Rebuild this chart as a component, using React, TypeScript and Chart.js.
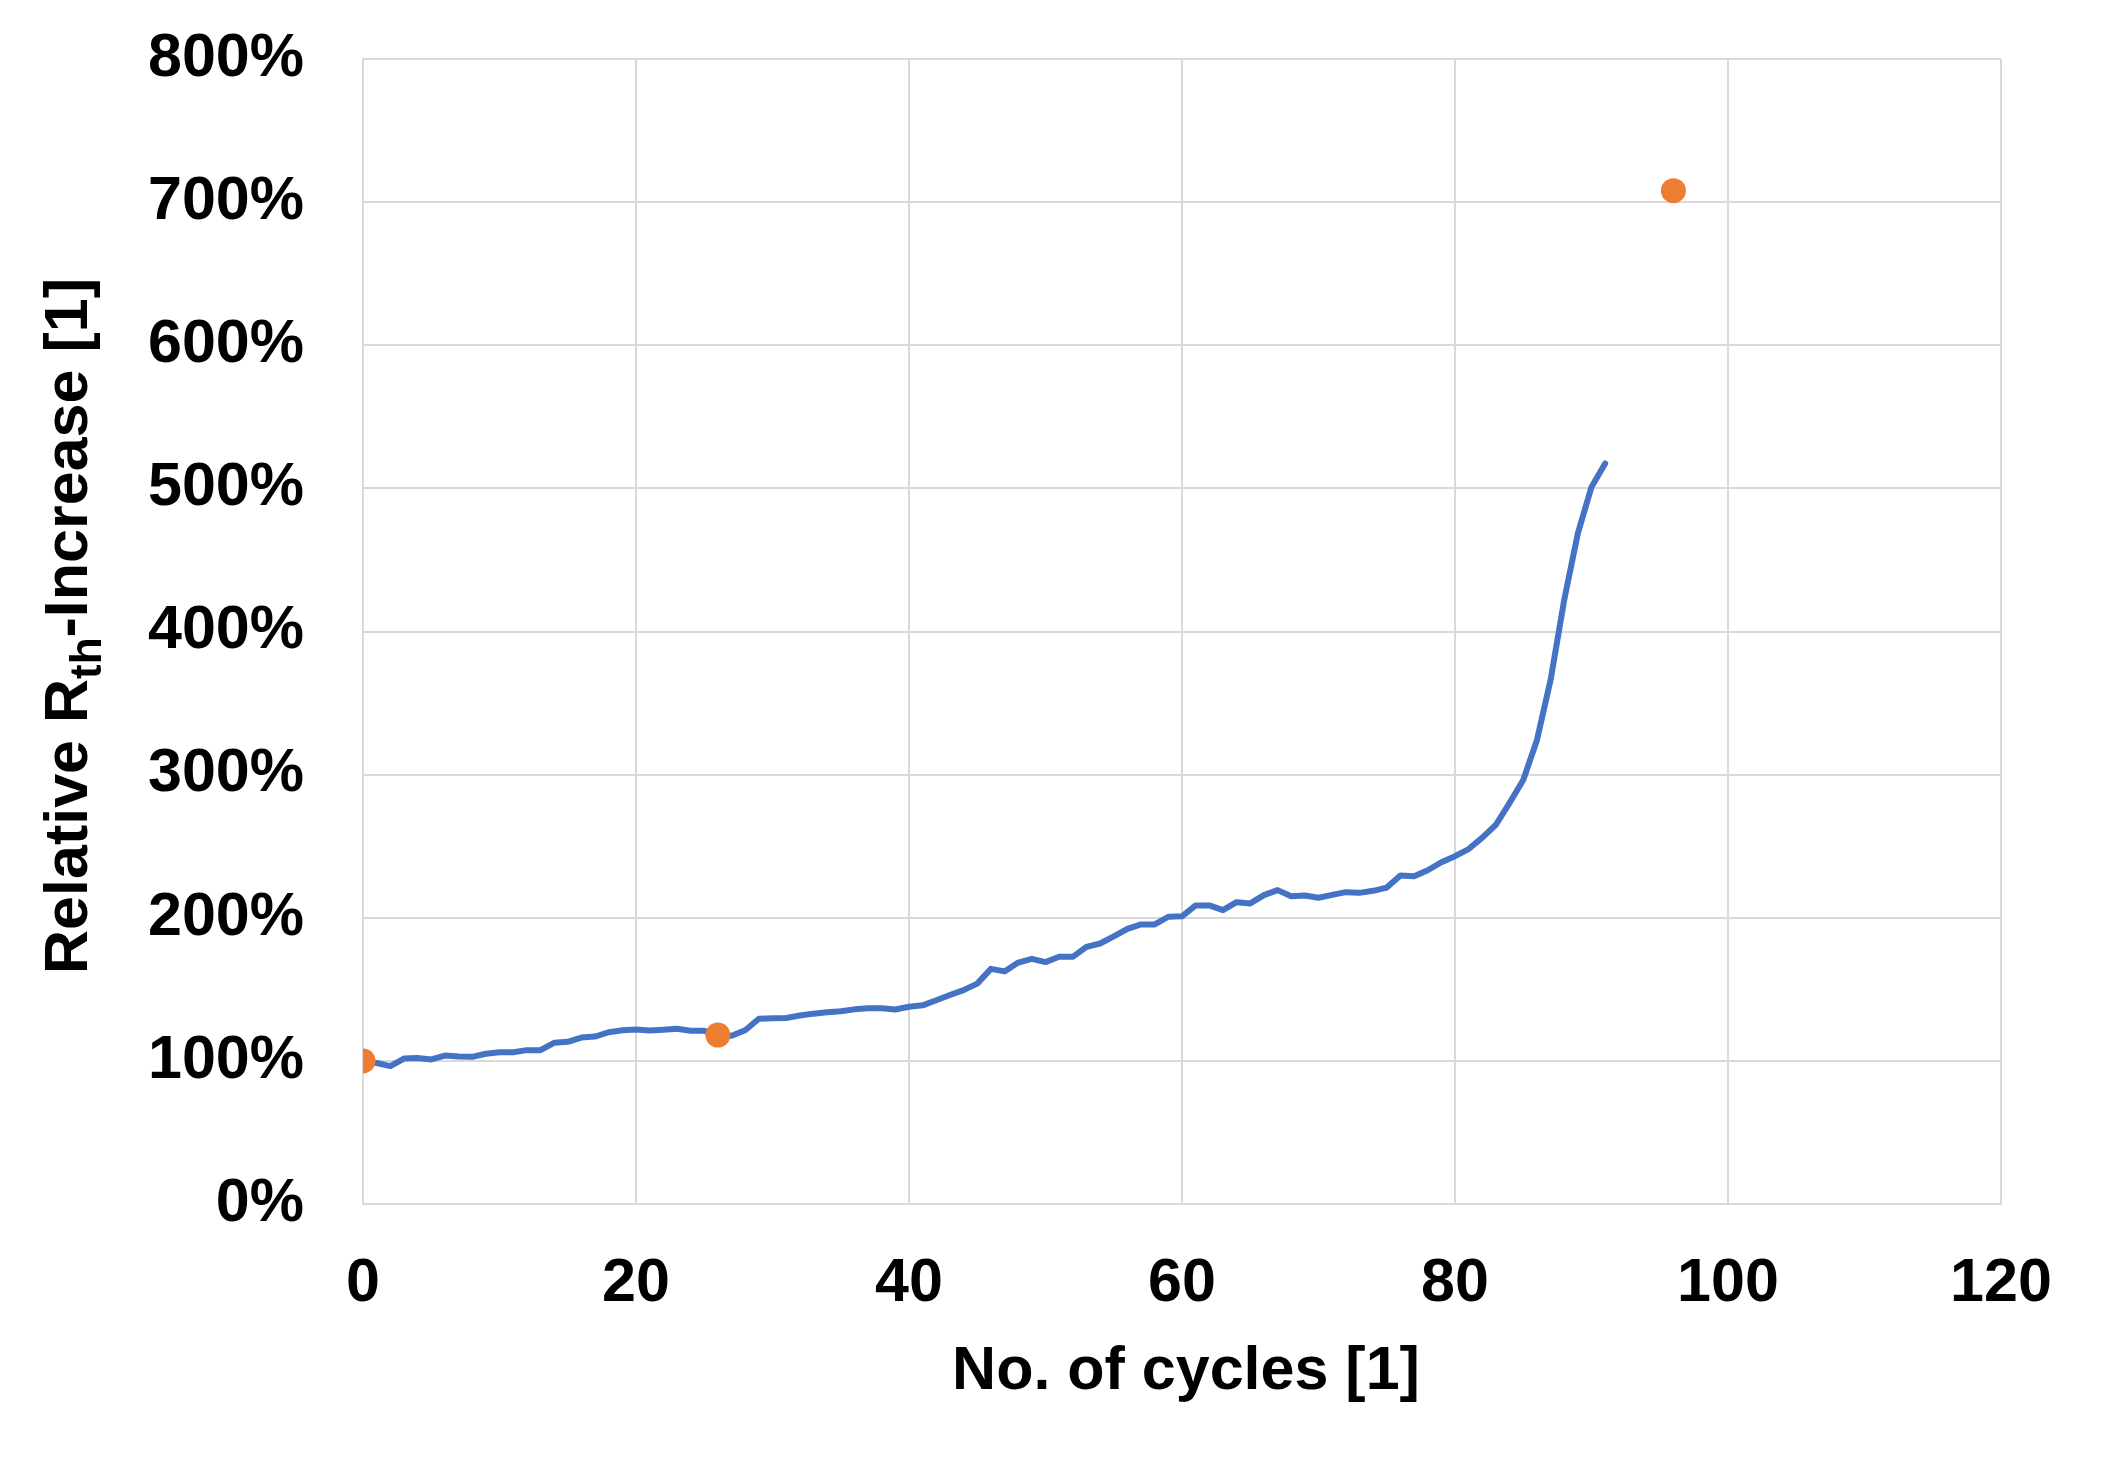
import React, { useEffect, useRef } from "react";
import { Chart, registerables } from "chart.js";

Chart.register(...registerables);

const FONT = '"Liberation Sans", Arial, sans-serif';

// cycle number for every measurement of the blue curve
const cycles = [
  0, 1, 2, 3, 4, 5, 6, 7, 8, 9, 10, 11, 12, 13, 14, 15, 16, 17, 18, 19, 20, 21, 22, 23,
  24, 25, 26, 27, 28, 29, 30, 31, 32, 33, 34, 35, 36, 37, 38, 39, 40, 41, 42, 43, 44, 45,
  46, 47, 48, 49, 50, 51, 52, 53, 54, 55, 56, 57, 58, 59, 60, 61, 62, 63, 64, 65, 66, 67,
  68, 69, 70, 71, 72, 73, 74, 75, 76, 77, 78, 79, 80, 81, 82, 83, 84, 85, 86, 87, 88, 89,
  90, 91,
];

// relative Rth increase in %
const rthIncrease = [
  100, 98.5, 96.3, 101.6, 102, 101, 103.7, 103, 102.8, 105, 106, 106, 107.5, 107.5, 112.6,
  113.3, 116.3, 117, 120, 121.4, 122, 121.2, 121.7, 122.4, 121, 121, 118, 117.5, 121.4,
  129.4, 129.7, 130, 131.7, 133, 134, 134.7, 136, 136.8, 136.8, 135.9, 137.8, 138.8, 142.4,
  146, 149.4, 154, 164.3, 162.5, 168.7, 171.3, 169, 172.7, 172.7, 179.7, 182, 187, 192.3,
  195.3, 195.3, 200.7, 201, 208.6, 208.6, 205.3, 210.9, 210, 215.8, 219.3, 215, 215.5, 214,
  216, 217.9, 217.4, 218.8, 221.1, 229.5, 229, 233.2, 238.8, 243, 248, 256, 265, 280.3,
  296.2, 324, 366, 422, 468.5, 501, 517.4,
];

// separately measured points (orange)
const markerCycles = [0, 26, 96];
const markerValues = [100, 118, 708];

const xTicks = [0, 20, 40, 60, 80, 100, 120];
const yTicks = [0, 100, 200, 300, 400, 500, 600, 700, 800];

// draws both axis titles, the y title needs a subscript
const titlePlugin = {
  id: "axisTitles",
  afterDraw(chart: Chart) {
    const ctx = chart.ctx;
    ctx.save();
    ctx.fillStyle = "#000";

    // x title
    ctx.font = `bold 61px ${FONT}`;
    ctx.textAlign = "center";
    ctx.textBaseline = "alphabetic";
    ctx.fillText("No. of cycles [1]", 1186, 1389);

    // y title, rotated
    const mainFont = `bold 61px ${FONT}`;
    const subFont = `bold 44px ${FONT}`;
    ctx.textAlign = "left";
    ctx.font = mainFont;
    const w1 = ctx.measureText("Relative R").width;
    const w3 = ctx.measureText("-Increase [1]").width;
    ctx.font = subFont;
    const w2 = ctx.measureText("th").width;
    const total = w1 + w2 + w3;

    ctx.translate(87, 626);
    ctx.rotate(-Math.PI / 2);
    let x = -total / 2;
    ctx.font = mainFont;
    ctx.fillText("Relative R", x, 0);
    x += w1;
    ctx.font = subFont;
    ctx.fillText("th", x, 14);
    x += w2;
    ctx.font = mainFont;
    ctx.fillText("-Increase [1]", x, 0);
    ctx.restore();
  },
};

export default function App() {
  const canvasRef = useRef<HTMLCanvasElement | null>(null);
  const chartRef = useRef<Chart | null>(null);

  useEffect(() => {
    if (!canvasRef.current) return;
    if (chartRef.current) chartRef.current.destroy();

    chartRef.current = new Chart(canvasRef.current, {
      type: "line",
      data: {
        datasets: [
          {
            type: "scatter",
            label: "Measured",
            data: markerCycles.map((c, i) => ({ x: c, y: markerValues[i] })),
            backgroundColor: "#ED7D31",
            borderColor: "#ED7D31",
            pointRadius: 12.5,
            pointBorderWidth: 0,
            showLine: false,
            order: 0,
          },
          {
            type: "line",
            label: "Rth",
            data: cycles.map((c, i) => ({ x: c, y: rthIncrease[i] })),
            borderColor: "#4472C4",
            borderWidth: 6,
            pointRadius: 0,
            tension: 0,
            fill: false,
            borderJoinStyle: "round",
            borderCapStyle: "round",
            order: 1,
          },
        ],
      },
      options: {
        animation: false,
        responsive: false,
        devicePixelRatio: 1,
        layout: { padding: { top: 59, right: 104, left: 0, bottom: 0 } },
        plugins: {
          legend: { display: false },
          tooltip: { enabled: false },
        },
        scales: {
          x: {
            type: "linear",
            min: 0,
            max: 120,
            afterBuildTicks: (s: any) => {
              s.ticks = xTicks.map((v) => ({ value: v }));
            },
            afterFit: (s: any) => {
              s.height = 256;
              s.paddingLeft = 0;
              s.paddingRight = 0;
            },
            ticks: {
              color: "#000",
              font: { family: FONT, size: 61, weight: "bold" },
              padding: 44,
              maxRotation: 0,
            },
            grid: { color: "#d9d9d9", lineWidth: 2, drawTicks: false },
            border: { color: "#d9d9d9", width: 2 },
          },
          y: {
            type: "linear",
            min: 0,
            max: 800,
            afterBuildTicks: (s: any) => {
              s.ticks = yTicks.map((v) => ({ value: v }));
            },
            afterFit: (s: any) => {
              s.width = 363;
              s.paddingTop = 0;
              s.paddingBottom = 0;
            },
            ticks: {
              color: "#000",
              font: { family: FONT, size: 61, weight: "bold" },
              padding: 59,
              callback: (v: any) => `${v}%`,
            },
            grid: { color: "#d9d9d9", lineWidth: 2, drawTicks: false },
            border: { color: "#d9d9d9", width: 2 },
          },
        },
      },
      plugins: [titlePlugin],
    });

    return () => {
      if (chartRef.current) {
        chartRef.current.destroy();
        chartRef.current = null;
      }
    };
  }, []);

  return (
    <div
      style={{
        position: "fixed",
        left: 0,
        top: 0,
        width: 2105,
        height: 1460,
        background: "#fff",
      }}
    >
      <canvas ref={canvasRef} width={2105} height={1460} />
    </div>
  );
}
